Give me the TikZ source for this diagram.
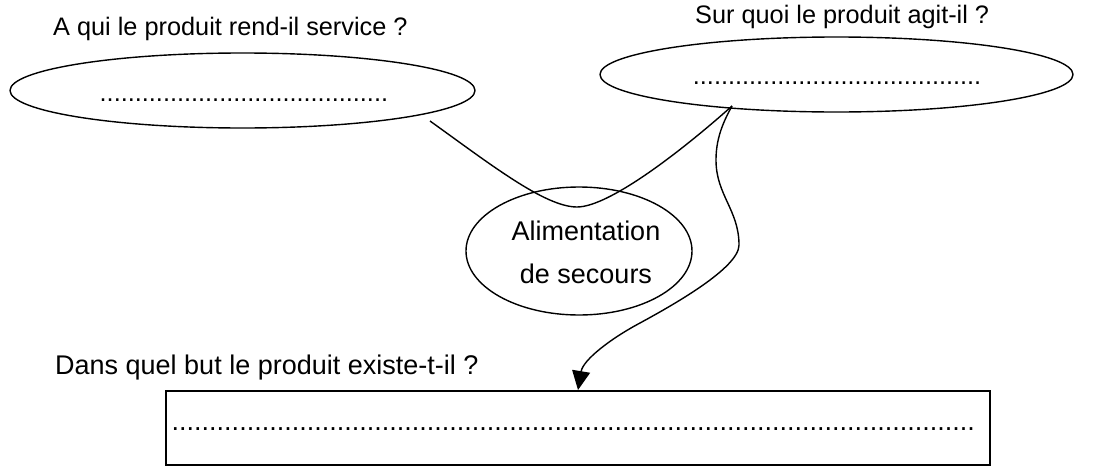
\documentclass[tikz,border=0pt]{standalone}
\usepackage{fontspec}
\setmainfont{Liberation Sans}
\usetikzlibrary{shapes.geometric,arrows.meta}
\newcommand\dotrow[1]{\foreach\k in {1,...,#1}{.}}
\begin{document}
\begin{tikzpicture}[x=1pt,y=-1pt,
  every node/.style={font=\fontsize{27}{32}\selectfont},
  small text/.style={font=\fontsize{25.3}{30}\selectfont},
  label text/.style={anchor=base west,inner sep=0pt},
  dotline/.style={anchor=base west,inner sep=0pt},
  oval/.style={ellipse,draw,line width=1.4pt,inner sep=0pt},
  answerbox/.style={draw,line width=2pt,inner sep=0pt,minimum width=824pt,minimum height=74pt},
  link/.style={line width=1.4pt}]
\useasboundingbox (0,0) rectangle (1112,466);

% questions
\node[label text,small text] (q1) at (53,35) {A qui le produit rend-il service ?};
\node[label text,small text] (q2) at (695,23) {Sur quoi le produit agit-il ?};
\node[label text] (q3) at (55,374) {Dans quel but le produit existe-t-il ?};

% answer ovals and box
\node[oval,minimum width=465pt,minimum height=75pt] (who) at (242.5,90.5) {};
\node[oval,minimum width=473pt,minimum height=75pt] (what) at (836.5,74.5) {};
\node[oval,minimum width=226pt,minimum height=128pt] (prod) at (579,251) {};
\node[answerbox] (goal) at (578,428) {};

\node[dotline,small text] (whodots) at (99.5,101) {\dotrow{41}};
\node[dotline,small text] (whatdots) at (692.7,84) {\dotrow{41}};
\node[dotline] (goaldots) at (171.5,430) {\dotrow{107}};

% product name
\node[anchor=base,inner sep=0pt] (prod1) at (586,240) {Alimentation};
\node[anchor=base,inner sep=0pt] (prod2) at (586,283) {de secours};

% connector ends on the ovals
\coordinate (whoend) at (430,121);
\coordinate (whatend) at (732,106);

% horn-shaped link between the two ovals
\draw[link] (whoend) .. controls (490,164) and (545,207) .. (577,207)
  .. controls (610,207) and (685,148) .. (whatend);

% link from the oval to the box
\draw[link,-{Triangle[length=19pt,width=18pt]}] (whatend)
  .. controls (722,124) and (716,140) .. (716,160)
  .. controls (716,195) and (739,210) .. (739,245)
  .. controls (739,268) and (673,305) .. (640,323)
  .. controls (610,339) and (583,360) .. (goal.north);
\end{tikzpicture}
\end{document}
